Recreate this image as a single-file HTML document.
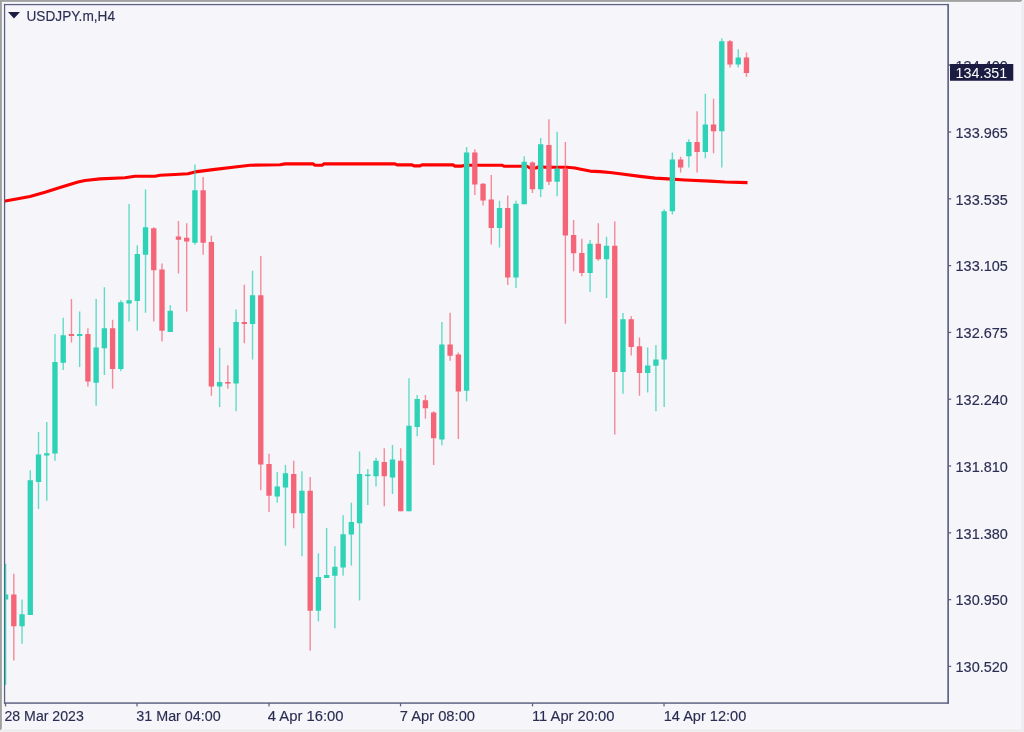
<!DOCTYPE html>
<html><head><meta charset="utf-8"><title>USDJPY.m,H4</title>
<style>
html,body{margin:0;padding:0;background:#f5f5fa;}
body{width:1024px;height:732px;overflow:hidden;position:relative;font-family:"Liberation Sans",sans-serif;}
svg{position:absolute;left:0;top:0;display:block}
svg text{font-family:"Liberation Sans",sans-serif;font-size:15.1px;fill:#2b2d52;stroke:#2b2d52;stroke-width:0.15px;}
</style></head><body>
<svg width="1024" height="732" viewBox="0 0 1024 732">
<defs>
<filter id="soft" x="-5%" y="-5%" width="110%" height="110%"><feGaussianBlur stdDeviation="0.45"/></filter>
<filter id="softt" x="-5%" y="-20%" width="110%" height="140%"><feGaussianBlur stdDeviation="0.3"/></filter>
<clipPath id="plot"><rect x="4.9" y="5" width="943.1" height="698"/></clipPath>
</defs>
<rect x="0" y="0" width="1024" height="732" fill="#f5f5fa"/>
<!-- outer frame (sunken 3D edge) -->
<rect x="0" y="0" width="1024" height="1" fill="#a0a2a4"/>
<rect x="0" y="0" width="1" height="732" fill="#a0a1a3"/>
<rect x="1" y="1" width="1021" height="1" fill="#ababab"/>
<rect x="1" y="1" width="1" height="729" fill="#ababab"/>
<rect x="2" y="2" width="1019" height="1" fill="#f8f8fb"/>
<rect x="2" y="2" width="1" height="727" fill="#f8f8fb"/>
<rect x="1021" y="1" width="1" height="731" fill="#f0f0f2"/>
<rect x="1022" y="0" width="1" height="732" fill="#eeeeee"/>
<rect x="1023" y="0" width="1" height="732" fill="#e7eef6"/>
<rect x="1" y="729" width="1020" height="1" fill="#f2f2f5"/>
<rect x="0" y="730" width="1022" height="1" fill="#e9e9eb"/>
<rect x="0" y="731" width="1022" height="1" fill="#f0f0ef"/>
<g filter="url(#soft)">
<!-- plot border -->
<rect x="3.95" y="3.95" width="944.8" height="1.25" fill="#5c6080"/>
<rect x="3.95" y="3.95" width="1.25" height="699.7" fill="#5c6080"/>
<rect x="947.3" y="3.95" width="1.65" height="699.7" fill="#5c6080"/>
<rect x="3.95" y="702.35" width="945" height="1.45" fill="#5c6080"/>
<g clip-path="url(#plot)">
<path d="M4.5,201.2 L5,201.1 L15,199.2 L30,196.4 L45,192.2 L60,187.5 L78,182.0 L85,180.5 L100,178.9 L125,177.8 L135,176.3 L155,176.2 L160,175.2 L175,174.5 L188,173.75 L195,171.9 L215,169.4 L235,167.0 L250,165.2 L280,164.8 L285,163.9 L313,163.9 L315,165.2 L322,165.2 L324,163.9 L395,163.9 L397,164.85 L412,164.85 L414,165.9 L420,165.9 L422,164.85 L453,164.85 L455,166.1 L462,166.1 L465,165.2 L502,165.2 L504,166.25 L527,166.25 L530,168 L536,168 L540,166.2 L545,167.2 L567,167.2 L575,168 L582,169.4 L590,171.1 L600,171.6 L610,172.5 L620,173.75 L640,176.4 L655,178.1 L668,178.9 L685,180 L710,181.1 L725,182.0 L747.5,182.65" fill="none" stroke="#ff0000" stroke-width="3.1" stroke-linejoin="round" stroke-linecap="butt"/>
<rect x="4.9" y="563.75" width="1.35" height="121.25" fill="#2fd2b6"/>
<rect x="2.91" y="594.50" width="5.35" height="5.00" fill="#2fd2b6"/>
<rect x="13.11" y="573.75" width="1.4" height="86.75" fill="#f56578" opacity="0.74"/>
<rect x="11.14" y="594.50" width="5.35" height="31.75" fill="#f56578"/>
<rect x="21.34" y="599.50" width="1.4" height="44.25" fill="#2fd2b6" opacity="0.74"/>
<rect x="19.37" y="614.25" width="5.35" height="12.00" fill="#2fd2b6"/>
<rect x="29.58" y="470.25" width="1.4" height="144.75" fill="#2fd2b6" opacity="0.74"/>
<rect x="27.60" y="480.25" width="5.35" height="134.75" fill="#2fd2b6"/>
<rect x="37.81" y="432.00" width="1.4" height="77.00" fill="#2fd2b6" opacity="0.74"/>
<rect x="35.83" y="454.50" width="5.35" height="27.50" fill="#2fd2b6"/>
<rect x="46.04" y="422.00" width="1.4" height="78.75" fill="#2fd2b6" opacity="0.74"/>
<rect x="44.07" y="453.25" width="5.35" height="2.25" fill="#2fd2b6"/>
<rect x="54.27" y="334.00" width="1.4" height="126.75" fill="#2fd2b6" opacity="0.74"/>
<rect x="52.30" y="362.00" width="5.35" height="91.50" fill="#2fd2b6"/>
<rect x="62.51" y="317.75" width="1.4" height="52.25" fill="#2fd2b6" opacity="0.74"/>
<rect x="60.53" y="335.25" width="5.35" height="27.50" fill="#2fd2b6"/>
<rect x="70.74" y="299.00" width="1.4" height="43.50" fill="#f56578" opacity="0.74"/>
<rect x="68.76" y="334.00" width="5.35" height="2.00" fill="#f56578"/>
<rect x="78.97" y="311.50" width="1.4" height="55.50" fill="#2fd2b6" opacity="0.74"/>
<rect x="76.99" y="334.00" width="5.35" height="2.00" fill="#2fd2b6"/>
<rect x="87.20" y="328.25" width="1.4" height="58.25" fill="#f56578" opacity="0.74"/>
<rect x="85.23" y="334.00" width="5.35" height="47.50" fill="#f56578"/>
<rect x="95.43" y="299.00" width="1.4" height="106.75" fill="#2fd2b6" opacity="0.74"/>
<rect x="93.46" y="347.50" width="5.35" height="35.25" fill="#2fd2b6"/>
<rect x="103.67" y="287.25" width="1.4" height="87.75" fill="#2fd2b6" opacity="0.74"/>
<rect x="101.69" y="328.25" width="5.35" height="20.00" fill="#2fd2b6"/>
<rect x="111.90" y="319.75" width="1.4" height="69.00" fill="#f56578" opacity="0.74"/>
<rect x="109.92" y="328.25" width="5.35" height="40.75" fill="#f56578"/>
<rect x="120.13" y="300.25" width="1.4" height="71.00" fill="#2fd2b6" opacity="0.74"/>
<rect x="118.16" y="302.25" width="5.35" height="66.75" fill="#2fd2b6"/>
<rect x="128.36" y="204.00" width="1.4" height="117.50" fill="#2fd2b6" opacity="0.74"/>
<rect x="126.39" y="300.25" width="5.35" height="3.25" fill="#2fd2b6"/>
<rect x="136.60" y="245.25" width="1.4" height="85.50" fill="#2fd2b6" opacity="0.74"/>
<rect x="134.62" y="254.00" width="5.35" height="47.00" fill="#2fd2b6"/>
<rect x="144.83" y="189.50" width="1.4" height="123.25" fill="#2fd2b6" opacity="0.74"/>
<rect x="142.85" y="227.25" width="5.35" height="27.50" fill="#2fd2b6"/>
<rect x="153.06" y="227.25" width="1.4" height="94.25" fill="#f56578" opacity="0.74"/>
<rect x="151.08" y="228.25" width="5.35" height="42.00" fill="#f56578"/>
<rect x="161.29" y="263.50" width="1.4" height="78.00" fill="#f56578" opacity="0.74"/>
<rect x="159.32" y="269.50" width="5.35" height="61.25" fill="#f56578"/>
<rect x="169.52" y="305.25" width="1.4" height="26.75" fill="#2fd2b6" opacity="0.74"/>
<rect x="167.55" y="310.75" width="5.35" height="21.25" fill="#2fd2b6"/>
<rect x="177.76" y="221.00" width="1.4" height="52.50" fill="#f56578" opacity="0.74"/>
<rect x="175.78" y="236.50" width="5.35" height="3.25" fill="#f56578"/>
<rect x="185.99" y="223.25" width="1.4" height="88.25" fill="#f56578" opacity="0.74"/>
<rect x="184.01" y="237.75" width="5.35" height="3.75" fill="#f56578"/>
<rect x="194.22" y="164.50" width="1.4" height="80.25" fill="#2fd2b6" opacity="0.74"/>
<rect x="192.25" y="190.25" width="5.35" height="52.50" fill="#2fd2b6"/>
<rect x="202.45" y="177.00" width="1.4" height="77.75" fill="#f56578" opacity="0.74"/>
<rect x="200.48" y="190.25" width="5.35" height="52.50" fill="#f56578"/>
<rect x="210.69" y="235.75" width="1.4" height="160.00" fill="#f56578" opacity="0.74"/>
<rect x="208.71" y="242.00" width="5.35" height="144.50" fill="#f56578"/>
<rect x="218.92" y="347.75" width="1.4" height="59.25" fill="#2fd2b6" opacity="0.74"/>
<rect x="216.94" y="382.00" width="5.35" height="4.50" fill="#2fd2b6"/>
<rect x="227.15" y="365.25" width="1.4" height="23.50" fill="#f56578" opacity="0.74"/>
<rect x="225.17" y="382.00" width="5.35" height="1.60" fill="#f56578"/>
<rect x="235.38" y="309.50" width="1.4" height="101.75" fill="#2fd2b6" opacity="0.74"/>
<rect x="233.41" y="322.00" width="5.35" height="61.50" fill="#2fd2b6"/>
<rect x="243.61" y="284.75" width="1.4" height="58.50" fill="#f56578" opacity="0.74"/>
<rect x="241.64" y="322.00" width="5.35" height="2.00" fill="#f56578"/>
<rect x="251.85" y="270.75" width="1.4" height="88.75" fill="#2fd2b6" opacity="0.74"/>
<rect x="249.87" y="295.25" width="5.35" height="28.75" fill="#2fd2b6"/>
<rect x="260.08" y="256.00" width="1.4" height="234.25" fill="#f56578" opacity="0.74"/>
<rect x="258.10" y="295.25" width="5.35" height="169.25" fill="#f56578"/>
<rect x="268.31" y="453.75" width="1.4" height="58.25" fill="#f56578" opacity="0.74"/>
<rect x="266.34" y="464.00" width="5.35" height="31.75" fill="#f56578"/>
<rect x="276.54" y="472.00" width="1.4" height="30.75" fill="#2fd2b6" opacity="0.74"/>
<rect x="274.57" y="486.50" width="5.35" height="10.00" fill="#2fd2b6"/>
<rect x="284.77" y="465.00" width="1.4" height="80.75" fill="#2fd2b6" opacity="0.74"/>
<rect x="282.80" y="473.25" width="5.35" height="14.25" fill="#2fd2b6"/>
<rect x="293.01" y="460.75" width="1.4" height="67.50" fill="#f56578" opacity="0.74"/>
<rect x="291.03" y="474.00" width="5.35" height="39.25" fill="#f56578"/>
<rect x="301.24" y="471.25" width="1.4" height="85.00" fill="#2fd2b6" opacity="0.74"/>
<rect x="299.26" y="490.75" width="5.35" height="22.50" fill="#2fd2b6"/>
<rect x="309.47" y="477.00" width="1.4" height="173.75" fill="#f56578" opacity="0.74"/>
<rect x="307.50" y="490.75" width="5.35" height="120.00" fill="#f56578"/>
<rect x="317.70" y="553.25" width="1.4" height="68.00" fill="#2fd2b6" opacity="0.74"/>
<rect x="315.73" y="577.00" width="5.35" height="33.75" fill="#2fd2b6"/>
<rect x="325.94" y="528.00" width="1.4" height="50.00" fill="#2fd2b6" opacity="0.74"/>
<rect x="323.96" y="575.00" width="5.35" height="3.00" fill="#2fd2b6"/>
<rect x="334.17" y="546.25" width="1.4" height="82.00" fill="#2fd2b6" opacity="0.74"/>
<rect x="332.19" y="566.75" width="5.35" height="9.00" fill="#2fd2b6"/>
<rect x="342.40" y="515.25" width="1.4" height="60.50" fill="#2fd2b6" opacity="0.74"/>
<rect x="340.43" y="534.25" width="5.35" height="33.25" fill="#2fd2b6"/>
<rect x="350.63" y="502.75" width="1.4" height="62.75" fill="#2fd2b6" opacity="0.74"/>
<rect x="348.66" y="522.00" width="5.35" height="12.50" fill="#2fd2b6"/>
<rect x="358.86" y="451.50" width="1.4" height="149.00" fill="#2fd2b6" opacity="0.74"/>
<rect x="356.89" y="474.00" width="5.35" height="49.25" fill="#2fd2b6"/>
<rect x="367.10" y="469.00" width="1.4" height="36.00" fill="#2fd2b6" opacity="0.74"/>
<rect x="365.12" y="474.50" width="5.35" height="1.60" fill="#2fd2b6"/>
<rect x="375.33" y="457.75" width="1.4" height="28.75" fill="#2fd2b6" opacity="0.74"/>
<rect x="373.35" y="460.75" width="5.35" height="15.50" fill="#2fd2b6"/>
<rect x="383.56" y="448.25" width="1.4" height="58.00" fill="#f56578" opacity="0.74"/>
<rect x="381.59" y="462.00" width="5.35" height="14.25" fill="#f56578"/>
<rect x="391.79" y="445.00" width="1.4" height="49.00" fill="#2fd2b6" opacity="0.74"/>
<rect x="389.82" y="459.50" width="5.35" height="18.00" fill="#2fd2b6"/>
<rect x="400.03" y="448.25" width="1.4" height="63.00" fill="#f56578" opacity="0.74"/>
<rect x="398.05" y="460.75" width="5.35" height="50.50" fill="#f56578"/>
<rect x="408.26" y="378.25" width="1.4" height="133.00" fill="#2fd2b6" opacity="0.74"/>
<rect x="406.28" y="425.75" width="5.35" height="85.50" fill="#2fd2b6"/>
<rect x="416.49" y="395.00" width="1.4" height="41.25" fill="#2fd2b6" opacity="0.74"/>
<rect x="414.51" y="399.00" width="5.35" height="28.00" fill="#2fd2b6"/>
<rect x="424.72" y="395.00" width="1.4" height="23.75" fill="#f56578" opacity="0.74"/>
<rect x="422.75" y="400.25" width="5.35" height="8.00" fill="#f56578"/>
<rect x="432.95" y="411.25" width="1.4" height="53.75" fill="#f56578" opacity="0.74"/>
<rect x="430.98" y="412.50" width="5.35" height="25.75" fill="#f56578"/>
<rect x="441.19" y="322.00" width="1.4" height="123.25" fill="#2fd2b6" opacity="0.74"/>
<rect x="439.21" y="344.50" width="5.35" height="95.00" fill="#2fd2b6"/>
<rect x="449.42" y="312.75" width="1.4" height="48.00" fill="#f56578" opacity="0.74"/>
<rect x="447.44" y="344.50" width="5.35" height="11.25" fill="#f56578"/>
<rect x="457.65" y="352.50" width="1.4" height="86.50" fill="#f56578" opacity="0.74"/>
<rect x="455.68" y="354.50" width="5.35" height="37.00" fill="#f56578"/>
<rect x="465.88" y="147.00" width="1.4" height="254.25" fill="#2fd2b6" opacity="0.74"/>
<rect x="463.91" y="152.50" width="5.35" height="238.25" fill="#2fd2b6"/>
<rect x="474.12" y="149.25" width="1.4" height="45.75" fill="#f56578" opacity="0.74"/>
<rect x="472.14" y="152.50" width="5.35" height="32.00" fill="#f56578"/>
<rect x="482.35" y="183.00" width="1.4" height="22.50" fill="#f56578" opacity="0.74"/>
<rect x="480.37" y="183.75" width="5.35" height="16.75" fill="#f56578"/>
<rect x="490.58" y="175.00" width="1.4" height="69.50" fill="#f56578" opacity="0.74"/>
<rect x="488.60" y="199.50" width="5.35" height="28.50" fill="#f56578"/>
<rect x="498.81" y="200.75" width="1.4" height="46.75" fill="#2fd2b6" opacity="0.74"/>
<rect x="496.84" y="208.00" width="5.35" height="20.00" fill="#2fd2b6"/>
<rect x="507.04" y="195.50" width="1.4" height="89.50" fill="#f56578" opacity="0.74"/>
<rect x="505.07" y="208.00" width="5.35" height="69.50" fill="#f56578"/>
<rect x="515.28" y="200.75" width="1.4" height="87.25" fill="#2fd2b6" opacity="0.74"/>
<rect x="513.30" y="203.75" width="5.35" height="73.75" fill="#2fd2b6"/>
<rect x="523.51" y="156.25" width="1.4" height="48.00" fill="#2fd2b6" opacity="0.74"/>
<rect x="521.53" y="161.75" width="5.35" height="42.50" fill="#2fd2b6"/>
<rect x="531.74" y="161.25" width="1.4" height="31.75" fill="#f56578" opacity="0.74"/>
<rect x="529.77" y="162.50" width="5.35" height="26.75" fill="#f56578"/>
<rect x="539.97" y="138.00" width="1.4" height="59.00" fill="#2fd2b6" opacity="0.74"/>
<rect x="538.00" y="144.25" width="5.35" height="45.00" fill="#2fd2b6"/>
<rect x="548.21" y="119.25" width="1.4" height="65.75" fill="#f56578" opacity="0.74"/>
<rect x="546.23" y="145.00" width="5.35" height="36.75" fill="#f56578"/>
<rect x="556.44" y="131.75" width="1.4" height="64.50" fill="#2fd2b6" opacity="0.74"/>
<rect x="554.46" y="168.75" width="5.35" height="13.00" fill="#2fd2b6"/>
<rect x="564.67" y="142.00" width="1.4" height="181.75" fill="#f56578" opacity="0.74"/>
<rect x="562.69" y="168.75" width="5.35" height="66.75" fill="#f56578"/>
<rect x="572.90" y="220.00" width="1.4" height="51.25" fill="#f56578" opacity="0.74"/>
<rect x="570.93" y="235.00" width="5.35" height="18.25" fill="#f56578"/>
<rect x="581.13" y="238.75" width="1.4" height="37.50" fill="#f56578" opacity="0.74"/>
<rect x="579.16" y="253.00" width="5.35" height="20.00" fill="#f56578"/>
<rect x="589.37" y="240.00" width="1.4" height="52.00" fill="#2fd2b6" opacity="0.74"/>
<rect x="587.39" y="243.75" width="5.35" height="29.25" fill="#2fd2b6"/>
<rect x="597.60" y="223.25" width="1.4" height="37.50" fill="#f56578" opacity="0.74"/>
<rect x="595.62" y="243.75" width="5.35" height="15.50" fill="#f56578"/>
<rect x="605.83" y="236.75" width="1.4" height="61.25" fill="#2fd2b6" opacity="0.74"/>
<rect x="603.86" y="245.75" width="5.35" height="13.50" fill="#2fd2b6"/>
<rect x="614.06" y="221.25" width="1.4" height="213.25" fill="#f56578" opacity="0.74"/>
<rect x="612.09" y="245.75" width="5.35" height="126.25" fill="#f56578"/>
<rect x="622.30" y="313.00" width="1.4" height="80.75" fill="#2fd2b6" opacity="0.74"/>
<rect x="620.32" y="319.25" width="5.35" height="52.75" fill="#2fd2b6"/>
<rect x="630.53" y="316.25" width="1.4" height="39.25" fill="#f56578" opacity="0.74"/>
<rect x="628.55" y="319.25" width="5.35" height="27.75" fill="#f56578"/>
<rect x="638.76" y="337.50" width="1.4" height="58.25" fill="#f56578" opacity="0.74"/>
<rect x="636.78" y="346.25" width="5.35" height="26.75" fill="#f56578"/>
<rect x="646.99" y="347.50" width="1.4" height="45.00" fill="#2fd2b6" opacity="0.74"/>
<rect x="645.02" y="365.50" width="5.35" height="7.50" fill="#2fd2b6"/>
<rect x="655.22" y="345.00" width="1.4" height="66.25" fill="#2fd2b6" opacity="0.74"/>
<rect x="653.25" y="359.50" width="5.35" height="6.25" fill="#2fd2b6"/>
<rect x="663.46" y="209.25" width="1.4" height="197.75" fill="#2fd2b6" opacity="0.74"/>
<rect x="661.48" y="211.25" width="5.35" height="148.25" fill="#2fd2b6"/>
<rect x="671.69" y="152.50" width="1.4" height="62.00" fill="#2fd2b6" opacity="0.74"/>
<rect x="669.71" y="159.50" width="5.35" height="51.75" fill="#2fd2b6"/>
<rect x="679.92" y="156.75" width="1.4" height="15.75" fill="#f56578" opacity="0.74"/>
<rect x="677.95" y="159.50" width="5.35" height="8.00" fill="#f56578"/>
<rect x="688.15" y="139.25" width="1.4" height="28.25" fill="#2fd2b6" opacity="0.74"/>
<rect x="686.18" y="142.00" width="5.35" height="14.25" fill="#2fd2b6"/>
<rect x="696.38" y="111.25" width="1.4" height="61.25" fill="#f56578" opacity="0.74"/>
<rect x="694.41" y="142.00" width="5.35" height="10.00" fill="#f56578"/>
<rect x="704.62" y="93.75" width="1.4" height="64.50" fill="#2fd2b6" opacity="0.74"/>
<rect x="702.64" y="124.50" width="5.35" height="27.50" fill="#2fd2b6"/>
<rect x="712.85" y="98.75" width="1.4" height="54.50" fill="#f56578" opacity="0.74"/>
<rect x="710.87" y="124.50" width="5.35" height="6.75" fill="#f56578"/>
<rect x="721.08" y="38.25" width="1.4" height="129.25" fill="#2fd2b6" opacity="0.74"/>
<rect x="719.11" y="41.25" width="5.35" height="90.00" fill="#2fd2b6"/>
<rect x="729.31" y="40.00" width="1.4" height="27.50" fill="#f56578" opacity="0.74"/>
<rect x="727.34" y="41.25" width="5.35" height="23.25" fill="#f56578"/>
<rect x="737.55" y="49.25" width="1.4" height="18.25" fill="#2fd2b6" opacity="0.74"/>
<rect x="735.57" y="57.50" width="5.35" height="7.00" fill="#2fd2b6"/>
<rect x="745.78" y="52.50" width="1.4" height="24.25" fill="#f56578" opacity="0.74"/>
<rect x="743.80" y="57.50" width="5.35" height="15.50" fill="#f56578"/>
</g>
<!-- title marker -->
<path d="M8 12 L20 12 L14 18.4 Z" fill="#1c1d40"/>
<rect x="948" y="64.60" width="3.2" height="1.25" fill="#5c6080"/>
<rect x="948" y="131.40" width="3.2" height="1.25" fill="#5c6080"/>
<rect x="948" y="198.20" width="3.2" height="1.25" fill="#5c6080"/>
<rect x="948" y="265.00" width="3.2" height="1.25" fill="#5c6080"/>
<rect x="948" y="331.80" width="3.2" height="1.25" fill="#5c6080"/>
<rect x="948" y="398.60" width="3.2" height="1.25" fill="#5c6080"/>
<rect x="948" y="465.40" width="3.2" height="1.25" fill="#5c6080"/>
<rect x="948" y="532.20" width="3.2" height="1.25" fill="#5c6080"/>
<rect x="948" y="599.00" width="3.2" height="1.25" fill="#5c6080"/>
<rect x="948" y="665.80" width="3.2" height="1.25" fill="#5c6080"/>
<rect x="4.90" y="703" width="1.25" height="3.4" fill="#5c6080"/>
<rect x="136.40" y="703" width="1.25" height="3.4" fill="#5c6080"/>
<rect x="268.40" y="703" width="1.25" height="3.4" fill="#5c6080"/>
<rect x="399.90" y="703" width="1.25" height="3.4" fill="#5c6080"/>
<rect x="531.90" y="703" width="1.25" height="3.4" fill="#5c6080"/>
<rect x="663.40" y="703" width="1.25" height="3.4" fill="#5c6080"/>
</g>
<g filter="url(#softt)">
<text x="955.6" y="71.05" textLength="52.2" lengthAdjust="spacingAndGlyphs">134.400</text>
<text x="955.6" y="137.85" textLength="52.2" lengthAdjust="spacingAndGlyphs">133.965</text>
<text x="955.6" y="204.65" textLength="52.2" lengthAdjust="spacingAndGlyphs">133.535</text>
<text x="955.6" y="271.45" textLength="52.2" lengthAdjust="spacingAndGlyphs">133.105</text>
<text x="955.6" y="338.25" textLength="52.2" lengthAdjust="spacingAndGlyphs">132.675</text>
<text x="955.6" y="405.05" textLength="52.2" lengthAdjust="spacingAndGlyphs">132.240</text>
<text x="955.6" y="471.85" textLength="52.2" lengthAdjust="spacingAndGlyphs">131.810</text>
<text x="955.6" y="538.65" textLength="52.2" lengthAdjust="spacingAndGlyphs">131.380</text>
<text x="955.6" y="605.45" textLength="52.2" lengthAdjust="spacingAndGlyphs">130.950</text>
<text x="955.6" y="672.25" textLength="52.2" lengthAdjust="spacingAndGlyphs">130.520</text>
<text x="4.5" y="721.2" textLength="79.25" lengthAdjust="spacingAndGlyphs">28 Mar 2023</text>
<text x="136.25" y="721.2" textLength="84.5" lengthAdjust="spacingAndGlyphs">31 Mar 04:00</text>
<text x="267.75" y="721.2" textLength="75.75" lengthAdjust="spacingAndGlyphs">4 Apr 16:00</text>
<text x="399.75" y="721.2" textLength="75.25" lengthAdjust="spacingAndGlyphs">7 Apr 08:00</text>
<text x="532" y="721.2" textLength="82.5" lengthAdjust="spacingAndGlyphs">11 Apr 20:00</text>
<text x="663.75" y="721.2" textLength="82.5" lengthAdjust="spacingAndGlyphs">14 Apr 12:00</text>
<text x="26.5" y="21.15" textLength="88.5" lengthAdjust="spacingAndGlyphs" style="font-size:15.4px">USDJPY.m,H4</text>
</g>
<g filter="url(#soft)">
<rect x="950" y="64" width="63.3" height="16.75" fill="#1c1e42"/>
<rect x="948" y="64.5" width="2.4" height="1.25" fill="#5c6080"/>
</g>
<g filter="url(#softt)">
<text x="955.6" y="77.9" textLength="51.6" lengthAdjust="spacingAndGlyphs" style="fill:#ffffff;stroke:none">134.351</text>
</g>
</svg>
</body></html>
